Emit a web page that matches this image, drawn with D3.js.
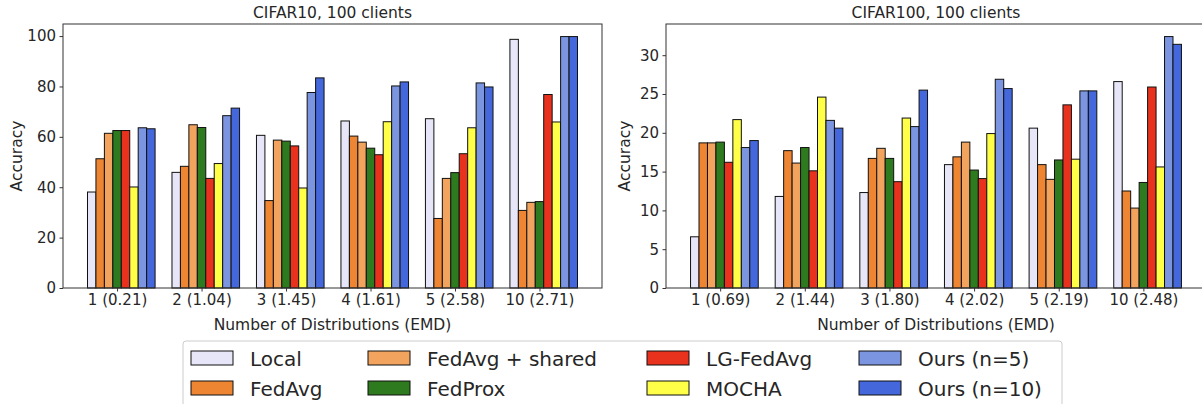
<!DOCTYPE html>
<html>
<head>
<meta charset="utf-8">
<title>Accuracy vs number of distributions</title>
<script src="https://cdn.jsdelivr.net/npm/d3@7"></script>
<style>
  body { margin: 0; background: #fff; }
  svg { display: block; font-family: "DejaVu Sans", sans-serif; }
  .axis path, .axis line { stroke: #333; }
</style>
</head>
<body>
<script>
// data
var methods = ["Local", "FedAvg", "FedAvg + shared", "FedProx", "LG-FedAvg", "MOCHA", "Ours (n=5)", "Ours (n=10)"];
var colors = ["#e6e6f8", "#ee8533", "#f2a45e", "#2e7a1f", "#e8321e", "#ffff48", "#7b95e0", "#4468dc"];

var cifar10Labels = ["1 (0.21)", "2 (1.04)", "3 (1.45)", "4 (1.61)", "5 (2.58)", "10 (2.71)"];
var cifar100Labels = ["1 (0.69)", "2 (1.44)", "3 (1.80)", "4 (2.02)", "5 (2.19)", "10 (2.48)"];

// one row per method, one value per group
var cifar10 = [
  [38.1, 45.9, 60.6, 66.3, 67.2, 98.7],
  [51.3, 48.3, 34.7, 60.3, 27.6, 30.8],
  [61.4, 64.8, 58.7, 57.9, 43.5, 34.0],
  [62.5, 63.7, 58.3, 55.5, 45.8, 34.3],
  [62.5, 43.5, 56.4, 52.9, 53.3, 76.8],
  [40.1, 49.4, 39.7, 66.0, 63.6, 65.9],
  [63.6, 68.4, 77.6, 80.2, 81.4, 99.8],
  [63.2, 71.4, 83.4, 81.8, 79.8, 99.8]
];
var cifar100 = [
  [6.6, 11.8, 12.3, 15.9, 20.6, 26.6],
  [18.7, 17.7, 16.7, 16.9, 15.9, 12.5],
  [18.7, 16.1, 18.0, 18.8, 14.0, 10.3],
  [18.8, 18.1, 16.7, 15.2, 16.5, 13.6],
  [16.2, 15.1, 13.7, 14.1, 23.6, 25.9],
  [21.7, 24.6, 21.9, 19.9, 16.6, 15.6],
  [18.1, 21.6, 20.8, 26.9, 25.4, 32.4],
  [19.0, 20.6, 25.5, 25.7, 25.4, 31.4]
];
var cifar10Ticks = [0, 20, 40, 60, 80, 100];
var cifar100Ticks = [0, 5, 10, 15, 20, 25, 30];

var W = 1202, H = 404;
var svg = d3.select("body").append("svg").attr("width", W).attr("height", H);

var barW = 0.1;

function panel(opts) {
  var nGroups = opts.labels.length;
  var span = (nGroups - 1) + methods.length * barW;
  var pad = span * 0.05;
  var x = d3.scaleLinear().domain([-pad, span + pad]).range([opts.left, opts.right]);
  var ymax = d3.max(opts.values, function(r) { return d3.max(r); }) * 1.05;
  var y = d3.scaleLinear().domain([0, ymax]).range([opts.bottom, opts.top]);

  var g = svg.append("g");

  // bars
  opts.values.forEach(function(row, m) {
    g.selectAll(null)
      .data(row)
      .enter()
      .append("rect")
      .attr("x", function(d, i) { return x(i + m * barW); })
      .attr("width", x(barW) - x(0))
      .attr("y", function(d) { return y(d); })
      .attr("height", function(d) { return y(0) - y(d); })
      .attr("fill", colors[m])
      .attr("stroke", "#111")
      .attr("stroke-width", 1);
  });

  // frame
  g.append("rect")
    .attr("x", opts.left).attr("y", opts.top)
    .attr("width", opts.right - opts.left).attr("height", opts.bottom - opts.top)
    .attr("fill", "none").attr("stroke", "#333").attr("stroke-width", 1);

  var xAxis = d3.axisBottom(x)
    .tickValues(d3.range(nGroups).map(function(i) { return i + 3.5 * barW; }))
    .tickFormat(function(d, i) { return opts.labels[i]; })
    .tickSize(3.5).tickPadding(3);
  g.append("g").attr("class", "axis")
    .attr("transform", "translate(0," + opts.bottom + ")")
    .call(xAxis)
    .call(function(s) { s.select(".domain").remove(); })
    .attr("font-size", 15).attr("font-family", "DejaVu Sans")
    .selectAll("text").attr("fill", "#262626");

  var yAxis = d3.axisLeft(y).tickValues(opts.ticks).tickSize(3.5).tickPadding(3.5);
  g.append("g").attr("class", "axis")
    .attr("transform", "translate(" + opts.left + ",0)")
    .call(yAxis)
    .call(function(s) { s.select(".domain").remove(); })
    .attr("font-size", 15).attr("font-family", "DejaVu Sans")
    .selectAll("text").attr("fill", "#262626");

  g.append("text")
    .attr("x", (opts.left + opts.right) / 2).attr("y", 18)
    .attr("text-anchor", "middle")
    .attr("font-size", 15.5).attr("fill", "#262626")
    .text(opts.title);

  g.append("text")
    .attr("x", (opts.left + opts.right) / 2).attr("y", 330)
    .attr("text-anchor", "middle")
    .attr("font-size", 15.5).attr("fill", "#262626")
    .text("Number of Distributions (EMD)");

  g.append("text")
    .attr("transform", "translate(" + opts.ylabelX + "," + ((opts.top + opts.bottom) / 2) + ") rotate(-90)")
    .attr("text-anchor", "middle")
    .attr("font-size", 15.5).attr("fill", "#262626")
    .text("Accuracy");
}

panel({ title: "CIFAR10, 100 clients", labels: cifar10Labels, values: cifar10, ticks: cifar10Ticks,
        left: 63, right: 602, top: 24, bottom: 288, ylabelX: 22 });
panel({ title: "CIFAR100, 100 clients", labels: cifar100Labels, values: cifar100, ticks: cifar100Ticks,
        left: 666, right: 1206, top: 24, bottom: 288, ylabelX: 630 });

// legend
var legend = svg.append("g");
legend.append("rect")
  .attr("x", 183).attr("y", 341).attr("width", 879).attr("height", 80)
  .attr("rx", 3).attr("fill", "#fff").attr("stroke", "#ccc").attr("stroke-width", 1);

var colX = [191, 368, 647, 859];
var rowY = [351, 381];
methods.forEach(function(name, i) {
  var cx = colX[Math.floor(i / 2)], cy = rowY[i % 2];
  legend.append("rect")
    .attr("x", cx).attr("y", cy).attr("width", 42).attr("height", 14)
    .attr("fill", colors[i]).attr("stroke", "#111").attr("stroke-width", 1);
  legend.append("text")
    .attr("x", cx + 59).attr("y", cy + 14.5)
    .attr("font-size", 20).attr("fill", "#262626")
    .text(name);
});
</script>
</body>
</html>
